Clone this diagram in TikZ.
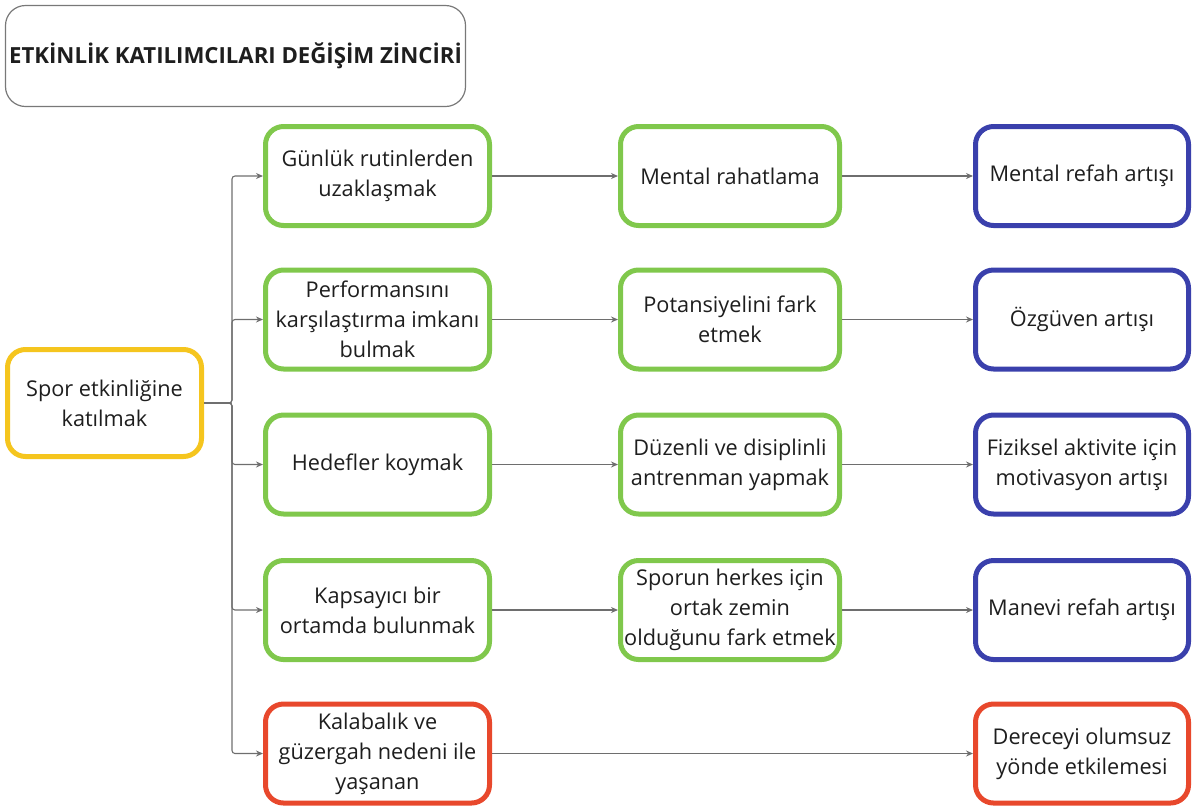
\documentclass[tikz,border=0pt]{standalone}
\usepackage{fontspec}
\setmainfont{Open Sans}
\usetikzlibrary{arrows.meta}
\definecolor{txt}{RGB}{30,30,30}
\definecolor{cyellow}{RGB}{245,197,30}
\definecolor{cgreen}{RGB}{128,200,76}
\definecolor{cblue}{RGB}{58,64,172}
\definecolor{cred}{RGB}{232,72,44}
\definecolor{cline}{RGB}{110,110,110}
\definecolor{cframe}{RGB}{120,120,120}
\tikzset{
  box/.style={draw, line width=5pt, rounded corners=18pt, fill=white,
    align=center, text=txt, inner sep=0pt,
    font=\fontsize{21.7}{30}\selectfont},
  yellowbox/.style={box, draw=cyellow, minimum width=194pt, minimum height=107pt},
  colA/.style={box, draw=cgreen, minimum width=224pt, minimum height=99pt},
  colB/.style={box, draw=cgreen, minimum width=219pt, minimum height=99pt},
  colC/.style={box, draw=cblue, minimum width=213pt, minimum height=99pt},
  redA/.style={colA, draw=cred},
  redC/.style={colC, draw=cred},
  link/.style={draw=cline, line width=1.1pt, -{Stealth[length=7pt,width=6pt]}, rounded corners=3pt},
}
\begin{document}
\begin{tikzpicture}[x=1pt, y=-1pt]
\useasboundingbox (0,0) rectangle (1193,807);

% title
\node[draw=cframe, line width=1.2pt, rounded corners=20pt, minimum width=460pt,
      minimum height=101pt, text=txt, font=\bfseries\fontsize{22.2}{26}\selectfont]
  (title) at (235.5,56) {ETKİNLİK KATILIMCILARI DEĞİŞİM ZİNCİRİ};

% source
\node[yellowbox] (src) at (104.5,403) {Spor etkinliğine\\katılmak};

% second column
\node[colA] (a1) at (377.5,176)   {Günlük rutinlerden\\uzaklaşmak};
\node[colA] (a2) at (377.5,319.5) {Performansını\\karşılaştırma imkanı\\bulmak};
\node[colA] (a3) at (377.5,464.5) {Hedefler koymak};
\node[colA] (a4) at (377.5,610)   {Kapsayıcı bir\\ortamda bulunmak};
\node[redA] (a5) at (377.5,753.5) {Kalabalık ve\\güzergah nedeni ile\\yaşanan};

% third column
\node[colB] (b1) at (730,176)   {Mental rahatlama};
\node[colB] (b2) at (730,319.5) {Potansiyelini fark\\etmek};
\node[colB] (b3) at (730,464.5) {Düzenli ve disiplinli\\antrenman yapmak};
\node[colB] (b4) at (730,610)   {Sporun herkes için\\ortak zemin\\olduğunu fark etmek};

% fourth column
\node[colC] (c1) at (1082,176)   {Mental refah artışı};
\node[colC] (c2) at (1082,319.5) {Özgüven artışı};
\node[colC] (c3) at (1082,464.5) {Fiziksel aktivite için\\motivasyon artışı};
\node[colC] (c4) at (1082,610)   {Manevi refah artışı};
\node[redC] (c5) at (1082,753.5) {Dereceyi olumsuz\\yönde etkilemesi};

% branching from the source
\coordinate (trunk) at (232,403);
\foreach \n in {a1,a2,a3,a4,a5}
  \draw[link] (src.east) -- (trunk) |- (\n.west);

% chains
\draw[link] (a1.east) -- (b1.west);
\draw[link] (a2.east) -- (b2.west);
\draw[link] (a3.east) -- (b3.west);
\draw[link] (a4.east) -- (b4.west);
\draw[link] (b1.east) -- (c1.west);
\draw[link] (b2.east) -- (c2.west);
\draw[link] (b3.east) -- (c3.west);
\draw[link] (b4.east) -- (c4.west);
\draw[link] (a5.east) -- (c5.west);
\end{tikzpicture}
\end{document}
